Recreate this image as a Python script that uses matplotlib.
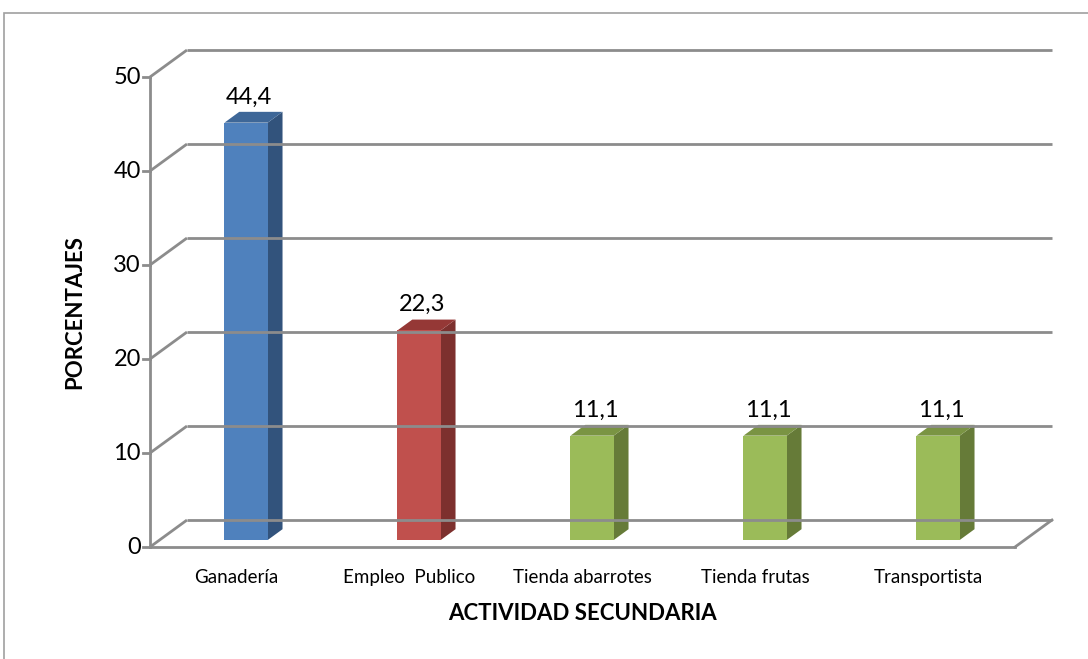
import matplotlib.pyplot as plt
import matplotlib.transforms as mtransforms
from matplotlib.patches import Polygon, Rectangle

plt.rcParams['font.family'] = ['Lato', 'DejaVu Sans']

# Datos del gráfico
categorias = ['Ganadería', 'Empleo  Publico', 'Tienda abarrotes', 'Tienda frutas', 'Transportista']
porcentajes = [44.4, 22.3, 11.1, 11.1, 11.1]
etiquetas = ['44,4', '22,3', '11,1', '11,1', '11,1']
ticks_y = [0, 10, 20, 30, 40, 50]

# Colores: frente, lado, tapa
col_frente = ['#4F81BD', '#C0504D', '#9BBB59', '#9BBB59', '#9BBB59']
col_lado = ['#32537C', '#7D302E', '#667B38', '#667B38', '#667B38']
col_tapa = ['#3E6798', '#953836', '#7A9443', '#7A9443', '#7A9443']
gris = '#8C8C8C'

W, H = 1088, 659
fig = plt.figure(figsize=(W / 100, H / 100), dpi=100)

# Marco del área del gráfico
fig.add_artist(Rectangle((4 / W, -0.1), 1.2, 1.1 - 13 / H, transform=fig.transFigure,
                         fill=False, edgecolor='#A0A0A0', linewidth=1.2))

# Plano de las barras
x0, x1 = 159.6, 1024.6
y0, y1 = 540, 70
ax = fig.add_axes([x0 / W, (H - y0) / H, (x1 - x0) / W, (y0 - y1) / H])
ax.set_xlim(-0.5, len(categorias) - 0.5)
ax.set_ylim(0, 50)
ax.axis('off')

# Vector de profundidad (píxeles)
DX, DY = 37, 27
f_front, f_back = -0.26, 0.74


def plano(f):
    return mtransforms.offset_copy(ax.transData, fig=fig, x=DX * f, y=DY * f, units='dots')


t_front = plano(f_front)
t_back = plano(f_back)
xa, xb = -0.5, len(categorias) - 0.5

# Pared izquierda, pared del fondo y piso
for v in ticks_y:
    # diagonal desde el eje frontal hasta el fondo
    p1 = t_front.transform((xa, v))
    p2 = t_back.transform((xa, v))
    ax.plot([p1[0], p2[0]], [p1[1], p2[1]], transform=None, color=gris, lw=2, clip_on=False,
            solid_capstyle='butt')
    ax.plot([xa, xb], [v, v], transform=t_back, color=gris, lw=2, clip_on=False,
            solid_capstyle='butt')
    # marca del eje y etiqueta
    px, py = t_front.transform((xa, v))
    ax.plot([px - 7, px], [py, py], transform=None, color=gris, lw=2, clip_on=False)
    fig.text((px - 9) / W, py / H, str(v), ha='right', va='center', fontsize=17, color='black')

# Borde frontal del piso y lado derecho
ax.plot([xa, xb], [0, 0], transform=t_front, color=gris, lw=2, clip_on=False)
p1 = t_front.transform((xb, 0))
p2 = t_back.transform((xb, 0))
ax.plot([p1[0], p2[0]], [p1[1], p2[1]], transform=None, color=gris, lw=2, clip_on=False)
# Eje vertical frontal
ax.plot([xa, xa], [0, 50], transform=t_front, color=gris, lw=2, clip_on=False)

# Barras 3D
ancho = 0.25
bx, by = DX * 0.4, DY * 0.4
for i, v in enumerate(porcentajes):
    l, r = i - ancho / 2, i + ancho / 2
    bl = ax.transData.transform((l, 0))
    br = ax.transData.transform((r, 0))
    tl = ax.transData.transform((l, v))
    tr = ax.transData.transform((r, v))
    cara = [bl, br, tr, tl]
    lado = [br, br + (bx, by), tr + (bx, by), tr]
    tapa = [tl, tr, tr + (bx, by), tl + (bx, by)]
    for pts, c in ((lado, col_lado[i]), (tapa, col_tapa[i]), (cara, col_frente[i])):
        ax.add_patch(Polygon(pts, closed=True, transform=None, facecolor=c,
                             edgecolor='none', clip_on=False))
    ax.annotate(etiquetas[i], xy=(i, v), xytext=(2, 11), textcoords='offset points',
                ha='center', va='bottom', fontsize=17, color='black')

# Etiquetas de categorías
for i, c in enumerate(categorias):
    px, py = t_front.transform((i, 0))
    fig.text(px / W, (py - 30) / H, c, ha='center', va='center', fontsize=13.5, color='black')

# Títulos de ejes
fig.text(583 / W, (H - 613) / H, 'ACTIVIDAD SECUNDARIA', ha='center', va='center',
         fontsize=16, fontweight='bold')
fig.text(75 / W, (H - 312) / H, 'PORCENTAJES', ha='center', va='center', rotation=90,
         fontsize=16, fontweight='bold')

fig.savefig('out.png', dpi=100)
